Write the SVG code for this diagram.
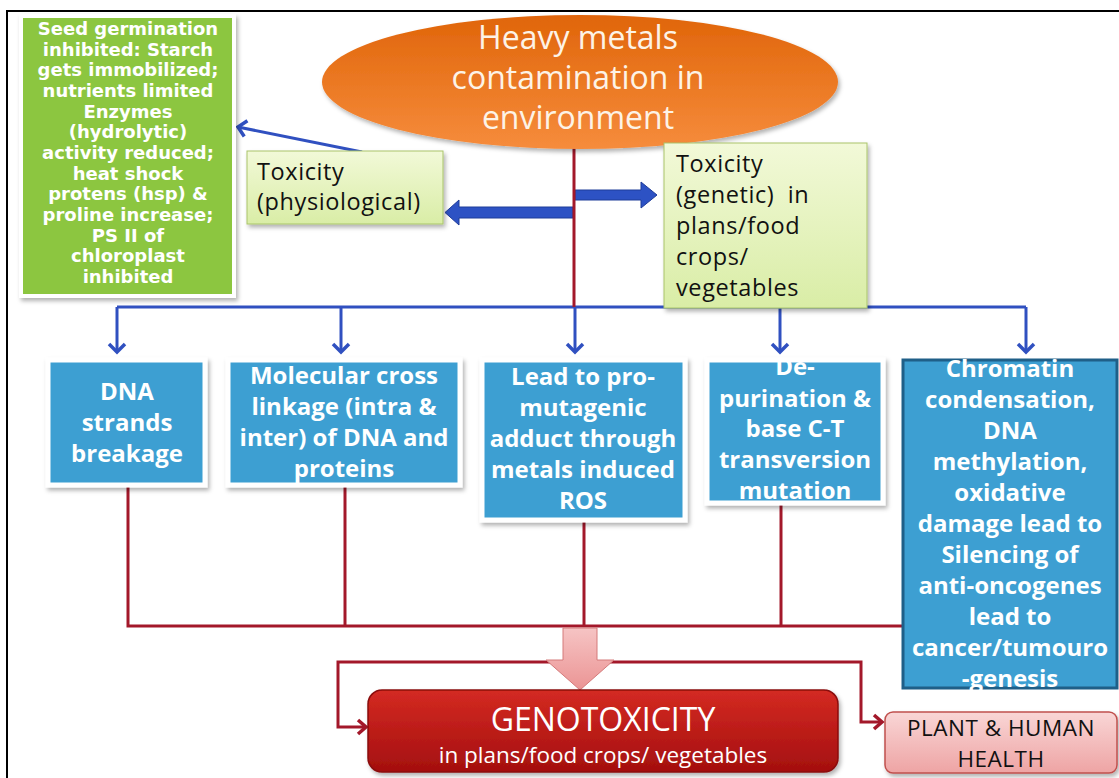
<svg xmlns="http://www.w3.org/2000/svg" width="1119" height="778" viewBox="0 0 1119 778">
<defs>
  <style>
    .gtxt{font-family:"DejaVu Sans",sans-serif;font-weight:bold;font-size:18px;fill:#ffffff;text-anchor:middle}
    .btxt{font-family:"Open Sans",sans-serif;font-weight:bold;font-size:24px;fill:#ffffff;text-anchor:middle}
    .ttxt{font-family:"Open Sans",sans-serif;font-size:23.5px;fill:#111111;letter-spacing:0.6px}
    .title{font-family:"Open Sans",sans-serif;font-size:32px;fill:#fdf3e6;text-anchor:middle}
    .htxt{font-family:"Open Sans",sans-serif;font-size:22.5px;fill:#111111;text-anchor:middle;letter-spacing:0.5px}
    .bluebox{fill:#3d9fd2;stroke:#ffffff;stroke-width:5}
    .bline{fill:none;stroke:#3050c0;stroke-width:3}
    .rline{fill:none;stroke:#a3182a;stroke-width:3}
  </style>
  <filter id="sh" x="-10%" y="-10%" width="125%" height="125%">
    <feDropShadow dx="2" dy="3" stdDeviation="2" flood-color="#000" flood-opacity="0.3"/>
  </filter>
  <linearGradient id="gOrange" x1="0" y1="0" x2="0" y2="1">
    <stop offset="0" stop-color="#e0650a"/>
    <stop offset="1" stop-color="#f68c3c"/>
  </linearGradient>
  <linearGradient id="gLight" x1="0" y1="0" x2="0" y2="1">
    <stop offset="0" stop-color="#f2f9d8"/>
    <stop offset="1" stop-color="#d9eda6"/>
  </linearGradient>
  <linearGradient id="gRed" x1="0" y1="0" x2="0" y2="1">
    <stop offset="0" stop-color="#d42a22"/>
    <stop offset="1" stop-color="#a40f0f"/>
  </linearGradient>
  <linearGradient id="gPink" x1="0" y1="0" x2="0" y2="1">
    <stop offset="0" stop-color="#f9d6d6"/>
    <stop offset="1" stop-color="#eea4a4"/>
  </linearGradient>
  <linearGradient id="gPinkArrow" x1="0" y1="0" x2="0" y2="1">
    <stop offset="0" stop-color="#f6c4c4"/>
    <stop offset="1" stop-color="#eb9494"/>
  </linearGradient>
  <marker id="aBlue" markerUnits="userSpaceOnUse" markerWidth="20" markerHeight="20" refX="10" refY="10" orient="auto">
    <path d="M2,2 L10,10 L2,18" fill="none" stroke="#3050c0" stroke-width="3.5"/>
  </marker>
  <marker id="aRed" markerUnits="userSpaceOnUse" markerWidth="20" markerHeight="20" refX="10" refY="10" orient="auto">
    <path d="M2,3 L10,10 L2,17" fill="none" stroke="#a3182a" stroke-width="3.5"/>
  </marker>
</defs>

<rect x="0" y="0" width="1119" height="778" fill="#ffffff"/>
<rect x="7" y="11" width="1140" height="800" fill="none" stroke="#000000" stroke-width="2"/>

<g id="connectors">
  <path class="bline" d="M117,307 H1026"/>
  <path class="bline" d="M117,307 V352" marker-end="url(#aBlue)"/>
  <path class="bline" d="M341,307 V352" marker-end="url(#aBlue)"/>
  <path class="bline" d="M575,307 V352" marker-end="url(#aBlue)"/>
  <path class="bline" d="M780,307 V352" marker-end="url(#aBlue)"/>
  <path class="bline" d="M1026,307 V352" marker-end="url(#aBlue)"/>
  <path class="bline" d="M362,152 L238,127" marker-end="url(#aBlue)"/>
  <polygon points="573,207 459,207 459,200 445,212.5 459,225 459,218 573,218" fill="#2d52c4" stroke="#1f3c99" stroke-width="1"/>
  <polygon points="575,190 641,190 641,182 657,195 641,208 641,200 575,200" fill="#2d52c4" stroke="#1f3c99" stroke-width="1"/>
  <path class="rline" d="M574,146 V307"/>
  <path class="rline" d="M128,485 V626 H902"/>
  <path class="rline" d="M345,485 V626"/>
  <path class="rline" d="M584,520 V626"/>
  <path class="rline" d="M781,503 V626"/>
  <path class="rline" d="M580,662 H338 V727 H366" marker-end="url(#aRed)"/>
  <path class="rline" d="M580,662 H861 V722 H882" marker-end="url(#aRed)"/>
  <polygon points="563,628 597,628 597,660 614,660 580,690 546,660 563,660" fill="url(#gPinkArrow)" stroke="#d47a7a" stroke-width="1"/>
</g>

<g id="source">
  <ellipse cx="580" cy="82" rx="258" ry="67" fill="url(#gOrange)" filter="url(#sh)"/>
  <text class="title" x="578" y="49">Heavy metals</text>
  <text class="title" x="578" y="89">contamination in</text>
  <text class="title" x="578" y="129">environment</text>
</g>

<g id="physio-effects">
  <rect x="21" y="16" width="213" height="280" fill="#8cc63f" stroke="#ffffff" stroke-width="4" filter="url(#sh)"/>
  <text class="gtxt" x="128" y="35">Seed germination</text>
  <text class="gtxt" x="128" y="56">inhibited: Starch</text>
  <text class="gtxt" x="128" y="76">gets immobilized;</text>
  <text class="gtxt" x="128" y="97">nutrients limited</text>
  <text class="gtxt" x="128" y="118">Enzymes</text>
  <text class="gtxt" x="128" y="138">(hydrolytic)</text>
  <text class="gtxt" x="128" y="159">activity reduced;</text>
  <text class="gtxt" x="128" y="180">heat shock</text>
  <text class="gtxt" x="128" y="200">protens (hsp) &amp;</text>
  <text class="gtxt" x="128" y="221">proline increase;</text>
  <text class="gtxt" x="128" y="242">PS II  of</text>
  <text class="gtxt" x="128" y="262">chloroplast</text>
  <text class="gtxt" x="128" y="283">inhibited</text>
</g>

<g id="tox-physio">
  <rect x="247" y="151" width="196" height="73" fill="url(#gLight)" stroke="#a9c46a" stroke-width="1" filter="url(#sh)"/>
  <text class="ttxt" x="257" y="180">Toxicity</text>
  <text class="ttxt" x="257" y="210">(physiological)</text>
</g>

<g id="tox-genetic">
  <rect x="664" y="143" width="203" height="165" fill="url(#gLight)" stroke="#a9c46a" stroke-width="1" filter="url(#sh)"/>
  <text class="ttxt" x="676" y="172">Toxicity</text>
  <text class="ttxt" x="676" y="203" xml:space="preserve">(genetic)  in</text>
  <text class="ttxt" x="676" y="234">plans/food</text>
  <text class="ttxt" x="676" y="265">crops/</text>
  <text class="ttxt" x="676" y="296">vegetables</text>
</g>

<g id="dna-breakage">
  <rect class="bluebox" x="48" y="360" width="157" height="125" filter="url(#sh)"/>
  <text class="btxt" x="127" y="400">DNA</text>
  <text class="btxt" x="127" y="431">strands</text>
  <text class="btxt" x="127" y="462">breakage</text>
</g>

<g id="cross-linkage">
  <rect class="bluebox" x="228" y="360" width="232" height="125" filter="url(#sh)"/>
  <text class="btxt" x="344" y="384">Molecular cross</text>
  <text class="btxt" x="344" y="415">linkage (intra &amp;</text>
  <text class="btxt" x="344" y="446">inter) of DNA and</text>
  <text class="btxt" x="344" y="477">proteins</text>
</g>

<g id="pro-mutagenic">
  <rect class="bluebox" x="482" y="360" width="203" height="160" filter="url(#sh)"/>
  <text class="btxt" x="583" y="385">Lead to pro-</text>
  <text class="btxt" x="583" y="416">mutagenic</text>
  <text class="btxt" x="583" y="447">adduct through</text>
  <text class="btxt" x="583" y="478">metals induced</text>
  <text class="btxt" x="583" y="509">ROS</text>
</g>

<g id="depurination">
  <rect class="bluebox" x="707" y="360" width="176" height="143" filter="url(#sh)"/>
  <text class="btxt" x="795" y="375">De-</text>
  <text class="btxt" x="795" y="407">purination &amp;</text>
  <text class="btxt" x="795" y="437">base C-T</text>
  <text class="btxt" x="795" y="468">transversion</text>
  <text class="btxt" x="795" y="499">mutation</text>
</g>

<g id="chromatin">
  <rect x="903" y="360" width="214" height="328" fill="#3d9fd2" stroke="#1f5f88" stroke-width="3"/>
  <text class="btxt" x="1010" y="377">Chromatin</text>
  <text class="btxt" x="1010" y="408">condensation,</text>
  <text class="btxt" x="1010" y="439">DNA</text>
  <text class="btxt" x="1010" y="470">methylation,</text>
  <text class="btxt" x="1010" y="501">oxidative</text>
  <text class="btxt" x="1010" y="532">damage lead to</text>
  <text class="btxt" x="1010" y="563">Silencing of</text>
  <text class="btxt" x="1010" y="594">anti-oncogenes</text>
  <text class="btxt" x="1010" y="625">lead to</text>
  <text class="btxt" x="1010" y="656">cancer/tumouro</text>
  <text class="btxt" x="1010" y="687">-genesis</text>
</g>

<g id="genotoxicity">
  <rect x="368" y="690" width="470" height="82" rx="14" fill="url(#gRed)" stroke="#8a0c0c" stroke-width="1.5" filter="url(#sh)"/>
  <text x="603" y="731" font-family="Open Sans, sans-serif" font-size="32px" fill="#ffffff" text-anchor="middle">GENOTOXICITY</text>
  <text x="603" y="763" font-family="Open Sans, sans-serif" font-size="22.5px" fill="#ffffff" text-anchor="middle">in plans/food crops/ vegetables</text>
</g>

<g id="health">
  <rect x="885" y="712" width="232" height="61" rx="8" fill="url(#gPink)" stroke="#c0504d" stroke-width="1.5" filter="url(#sh)"/>
  <text class="htxt" x="1001" y="736">PLANT &amp; HUMAN</text>
  <text class="htxt" x="1001" y="767">HEALTH</text>
</g>
</svg>
